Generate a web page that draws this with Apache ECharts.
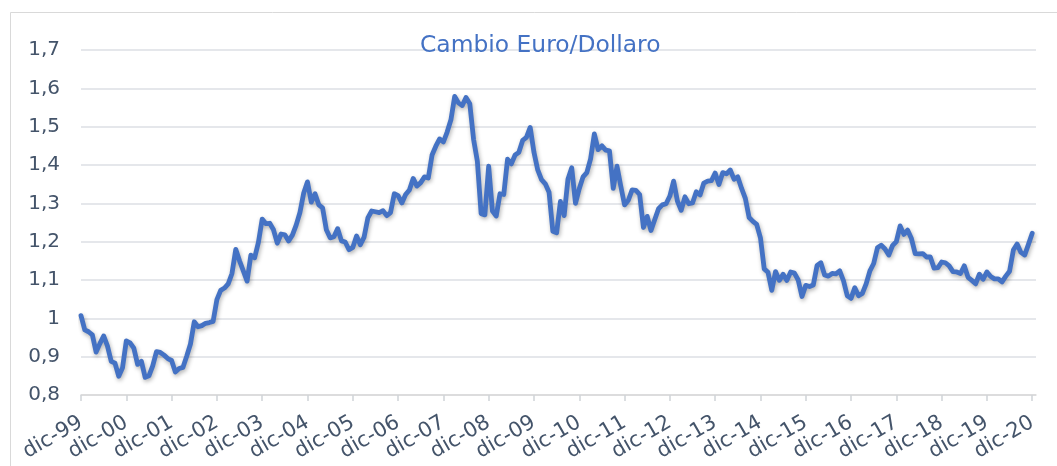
<!DOCTYPE html>
<html>
<head>
<meta charset="utf-8">
<script src="https://cdn.jsdelivr.net/npm/echarts@6/dist/echarts.min.js"></script>
<style>
  html, body { margin: 0; padding: 0; background: #ffffff; }
  #chart { width: 1057px; height: 466px; }
</style>
</head>
<body>
<div id="chart"></div>
<script>
// Month-end EUR/USD, dic-1999 .. dic-2020
const monthNames = ['gen','feb','mar','apr','mag','giu','lug','ago','set','ott','nov','dic'];
const startYear = 1999, startMonth = 11; // dic-99
const values = [
  1.007,
  0.970, 0.965, 0.957, 0.912, 0.934, 0.954, 0.928, 0.888, 0.883, 0.849, 0.871, 0.941,
  0.936, 0.922, 0.880, 0.888, 0.846, 0.850, 0.876, 0.913, 0.911, 0.904, 0.895, 0.890,
  0.860, 0.869, 0.872, 0.901, 0.933, 0.991, 0.978, 0.981, 0.987, 0.989, 0.992, 1.049,
  1.073, 1.079, 1.090, 1.117, 1.180, 1.150, 1.124, 1.097, 1.165, 1.158, 1.198, 1.259,
  1.247, 1.248, 1.231, 1.196, 1.220, 1.218, 1.202, 1.217, 1.243, 1.276, 1.327, 1.356,
  1.303, 1.325, 1.296, 1.288, 1.231, 1.210, 1.213, 1.234, 1.202, 1.199, 1.179, 1.185,
  1.215, 1.192, 1.212, 1.262, 1.280, 1.278, 1.276, 1.281, 1.268, 1.276, 1.325, 1.320,
  1.301, 1.323, 1.335, 1.365, 1.345, 1.354, 1.369, 1.366, 1.426, 1.449, 1.468, 1.460,
  1.486, 1.518, 1.579, 1.562, 1.555, 1.576, 1.560, 1.467, 1.410, 1.273, 1.270, 1.397,
  1.280, 1.267, 1.325, 1.323, 1.415, 1.403, 1.426, 1.433, 1.464, 1.472, 1.498, 1.433,
  1.387, 1.362, 1.351, 1.329, 1.227, 1.223, 1.305, 1.268, 1.363, 1.393, 1.300, 1.338,
  1.369, 1.380, 1.416, 1.481, 1.440, 1.450, 1.439, 1.437, 1.339, 1.397, 1.345, 1.296,
  1.308, 1.335, 1.334, 1.323, 1.237, 1.266, 1.229, 1.258, 1.286, 1.296, 1.299, 1.319,
  1.358, 1.306, 1.282, 1.317, 1.299, 1.301, 1.330, 1.322, 1.353, 1.358, 1.359, 1.379,
  1.349, 1.380, 1.377, 1.387, 1.363, 1.369, 1.339, 1.313, 1.263, 1.253, 1.245, 1.210,
  1.129, 1.120, 1.073, 1.122, 1.099, 1.115, 1.099, 1.121, 1.118, 1.100, 1.057, 1.086,
  1.083, 1.087, 1.138, 1.145, 1.113, 1.110, 1.117, 1.116, 1.124, 1.098, 1.059, 1.052,
  1.080, 1.059, 1.065, 1.090, 1.124, 1.143, 1.184, 1.191, 1.181, 1.165, 1.190, 1.200,
  1.241, 1.219, 1.230, 1.208, 1.169, 1.168, 1.169, 1.160, 1.160, 1.131, 1.132, 1.147,
  1.145, 1.137, 1.122, 1.121, 1.117, 1.137, 1.107, 1.099, 1.090, 1.115, 1.102, 1.121,
  1.109, 1.103, 1.103, 1.095, 1.110, 1.123, 1.178, 1.194, 1.172, 1.165, 1.193, 1.222
];
// one trailing empty month so the axis runs slightly past dic-20 as in the picture
const categories = [];
for (let i = 0; i < values.length + 1; i++) {
  const m = (startMonth + i) % 12;
  const y = startYear + Math.floor((startMonth + i) / 12);
  categories.push(monthNames[m] + '-' + String(y % 100).padStart(2, '0'));
}
const seriesData = values.concat([null]);
const yTickValues = [0.8, 0.9, 1.0, 1.1, 1.2, 1.3, 1.4, 1.5, 1.6, 1.7];
const yTickLabels = ['0,8', '0,9', '1', '1,1', '1,2', '1,3', '1,4', '1,5', '1,6', '1,7'];
const titleText = 'Cambio Euro/Dollaro';

const chart = echarts.init(document.getElementById('chart'), null, { renderer: 'canvas' });
const font = 'DejaVu Sans, Verdana, sans-serif';
chart.setOption({
  animation: false,
  backgroundColor: '#ffffff',
  graphic: [{
    type: 'rect',
    shape: { x: 10.5, y: 12.5, width: 1100, height: 500 },
    style: { fill: 'none', stroke: '#d9d9d9', lineWidth: 1 },
    silent: true
  }],
  title: {
    text: titleText,
    left: 415, top: 29,
    textStyle: { color: '#4472C4', fontFamily: font, fontSize: 23.4, fontWeight: 'normal' }
  },
  grid: { left: 81, right: 21, top: 50, bottom: 71, containLabel: false },
  xAxis: {
    type: 'category',
    data: categories,
    boundaryGap: false,
    axisLine: { show: true, lineStyle: { color: '#d9d9d9', width: 1.5 } },
    axisTick: { show: true, interval: 11, length: 6, lineStyle: { color: '#d0d3d8', width: 1.5 } },
    axisLabel: {
      interval: 11, rotate: 30, margin: 26,
      color: '#44546A', fontFamily: font, fontSize: 21
    },
    splitLine: { show: false }
  },
  yAxis: {
    type: 'value',
    min: 0.8, max: 1.7, interval: 0.1,
    axisLine: { show: false },
    axisTick: { show: false },
    axisLabel: {
      margin: 21, color: '#44546A', fontFamily: font, fontSize: 20,
      formatter: function (v) {
        const idx = yTickValues.findIndex(t => Math.abs(t - v) < 1e-6);
        return idx >= 0 ? yTickLabels[idx] : '';
      }
    },
    splitLine: { show: true, lineStyle: { color: '#dcdfe4', width: 1.5 } }
  },
  series: [{
    type: 'line',
    data: seriesData,
    showSymbol: false,
    symbol: 'none',
    smooth: false,
    connectNulls: false,
    lineStyle: {
      color: '#4472C4', width: 4.8, cap: 'round', join: 'round',
      shadowColor: 'rgba(0,0,0,0.3)', shadowBlur: 4, shadowOffsetX: 1, shadowOffsetY: 2
    }
  }]
});
</script>
</body>
</html>
